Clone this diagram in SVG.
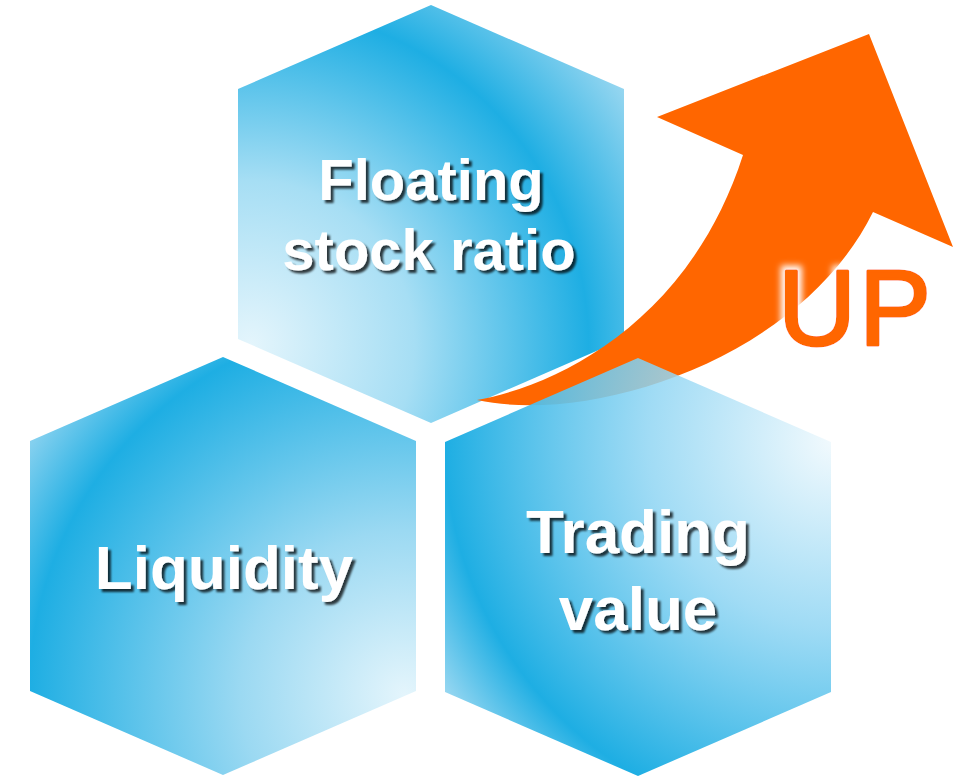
<svg xmlns="http://www.w3.org/2000/svg" width="967" height="777" viewBox="0 0 967 777">
<defs>
<radialGradient id="gTop" gradientUnits="userSpaceOnUse" cx="250" cy="345" r="470">
<stop offset="0" stop-color="#e4f5fc"/>
<stop offset="0.35" stop-color="#a6def4"/>
<stop offset="0.72" stop-color="#1eaee3"/>
<stop offset="1" stop-color="#a8dcf2"/>
</radialGradient>
<radialGradient id="gLeft" gradientUnits="userSpaceOnUse" cx="405" cy="695" r="470">
<stop offset="0" stop-color="#e4f5fc"/>
<stop offset="0.35" stop-color="#9bd9f2"/>
<stop offset="0.8" stop-color="#1eaee3"/>
<stop offset="1" stop-color="#9fd9f2"/>
</radialGradient>
<radialGradient id="gRight" gradientUnits="userSpaceOnUse" cx="835" cy="440" r="470">
<stop offset="0" stop-color="#f0f9fd" stop-opacity="0.85"/>
<stop offset="0.4" stop-color="#8fd5f3" stop-opacity="0.85"/>
<stop offset="0.83" stop-color="#1eaee3" stop-opacity="1"/>
<stop offset="1" stop-color="#a0daf2" stop-opacity="1"/>
</radialGradient>
<filter id="shadow" x="-10%" y="-20%" width="130%" height="150%">
<feDropShadow dx="3" dy="3" stdDeviation="1.2" flood-color="#000" flood-opacity="0.75"/>
</filter>
<filter id="glow" x="-20%" y="-20%" width="140%" height="140%">
<feMorphology in="SourceAlpha" operator="dilate" radius="4" result="d"/>
<feGaussianBlur in="d" stdDeviation="3" result="b"/>
<feFlood flood-color="#fff"/>
<feComposite in2="b" operator="in" result="w"/>
<feMerge><feMergeNode in="w"/><feMergeNode in="SourceGraphic"/></feMerge>
</filter>
</defs>
<style>
.lbl{font-family:"Liberation Sans",Arial,sans-serif;font-weight:bold;fill:#fff;text-anchor:middle;filter:url(#shadow)}
.up{font-family:"Liberation Sans",Arial,sans-serif;fill:#ff6600;stroke:#ff6600;stroke-width:3;stroke-linejoin:round}
</style>
<rect width="967" height="777" fill="#fff"/>
<g id="node-floating">
<polygon points="431,5 624,89 624,339 431,423 238,339 238,89" fill="url(#gTop)"/>
<text class="lbl" x="431" y="200" font-size="58">Floating</text>
<text class="lbl" x="429" y="270" font-size="58">stock ratio</text>
</g>
<g id="connectors">
<path id="arrow-up" d="M477,400 C560,385 690,320 743,155 L657,117 L869,34 L953,247 L873,212 C800,360 590,425 477,400 Z" fill="#ff6600"/>
</g>
<g id="node-liquidity">
<polygon points="223,357 416,441 416,691 223,775 30,691 30,441" fill="url(#gLeft)"/>
<text class="lbl" x="224" y="589" font-size="62">Liquidity</text>
</g>
<g id="node-trading">
<polygon points="638,358 831,442 831,692 638,776 445,692 445,442" fill="url(#gRight)"/>
<text class="lbl" x="638" y="553" font-size="62">Trading</text>
<text class="lbl" x="638" y="630" font-size="62">value</text>
</g>
<g id="label-up">
<text class="up" x="778" y="345" font-size="108" letter-spacing="3" filter="url(#glow)">UP</text>
</g>
</svg>
